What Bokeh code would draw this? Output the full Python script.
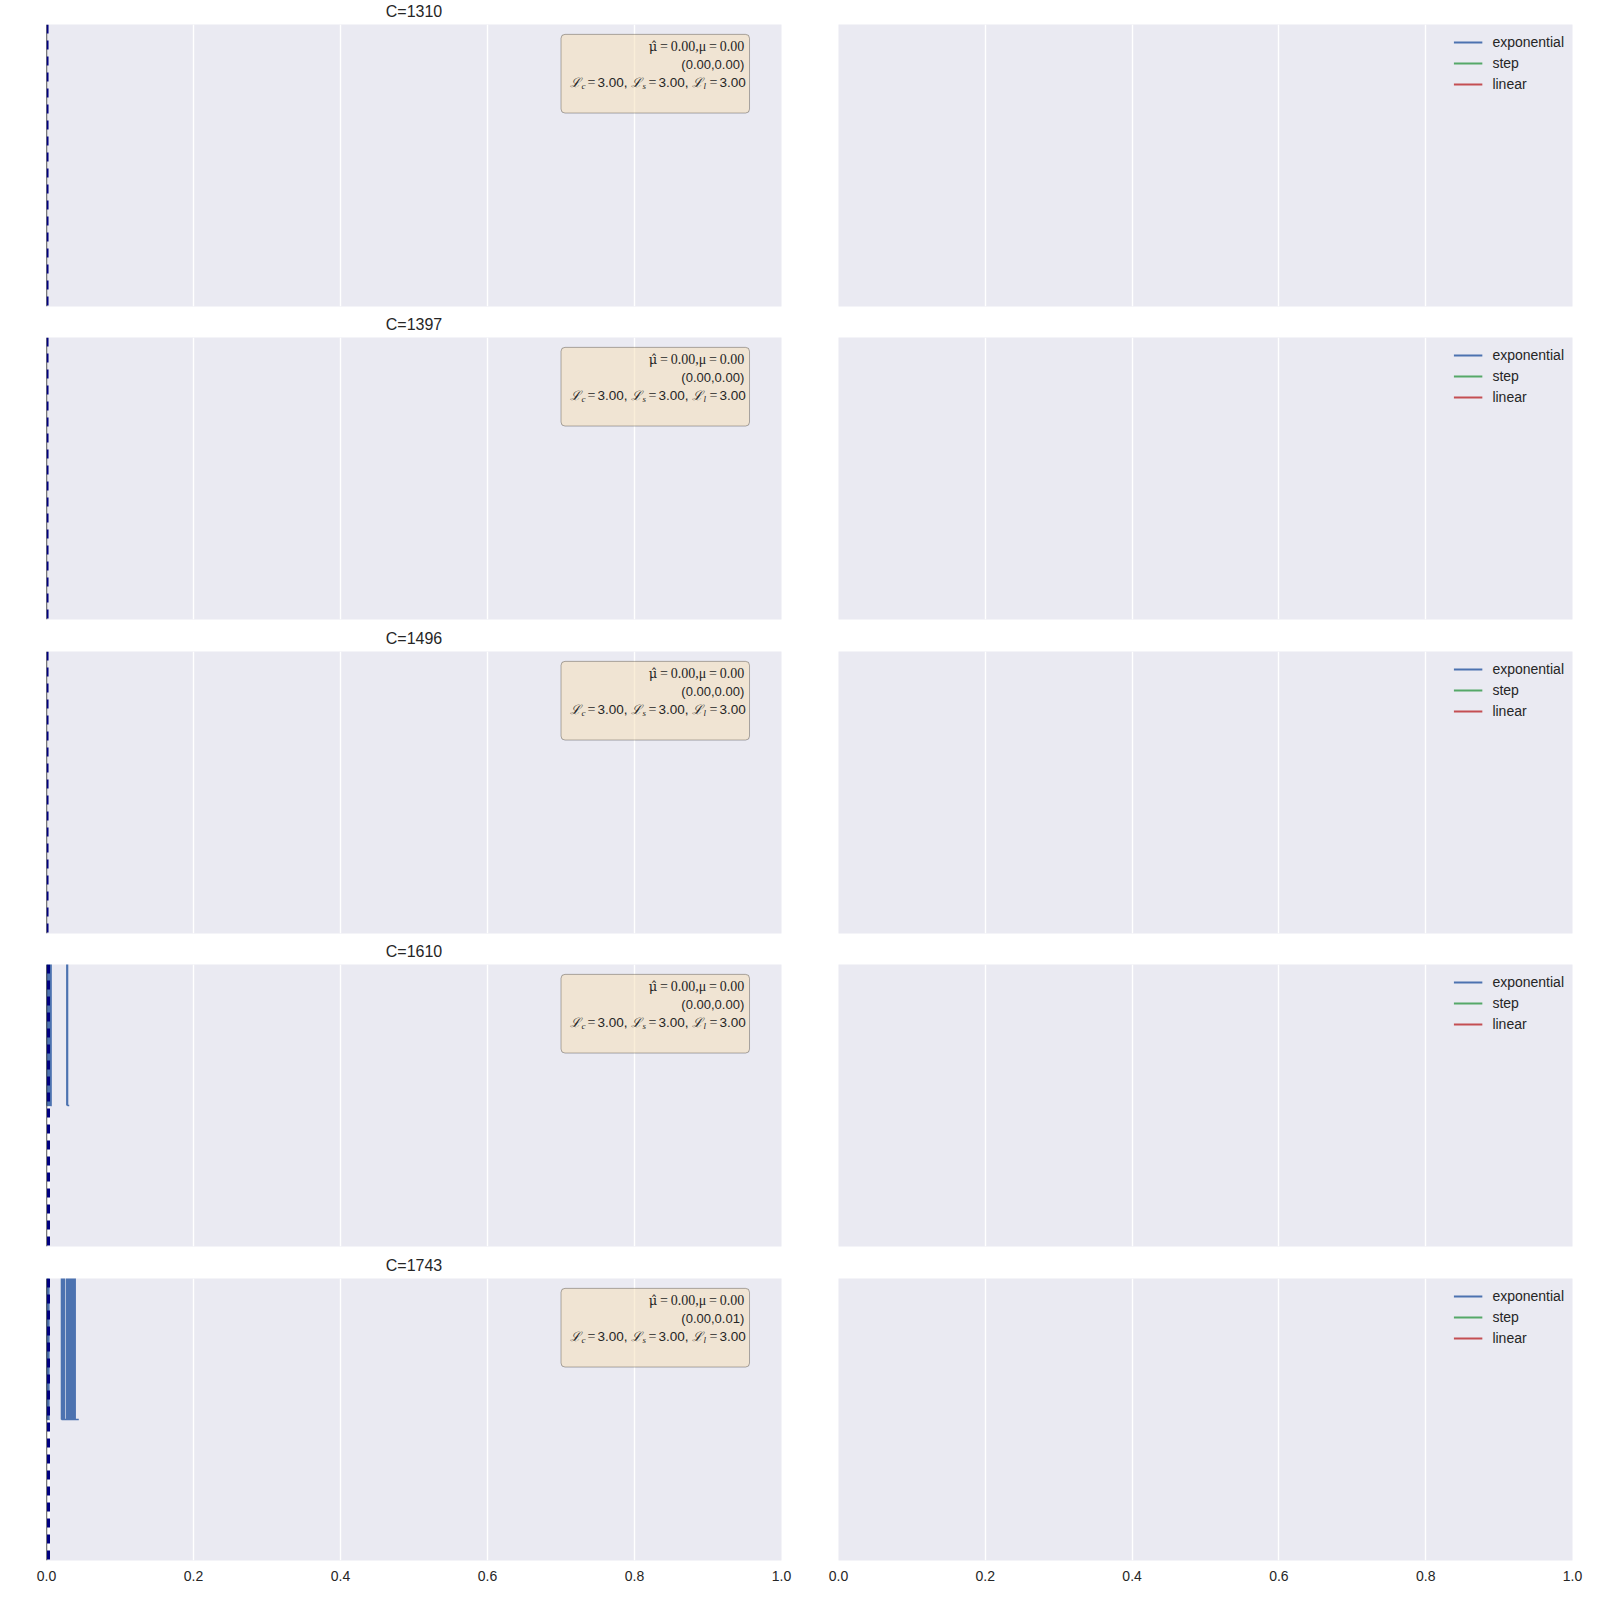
import numpy as np
from bokeh.plotting import figure
from bokeh.layouts import column, row
from bokeh.models import Range1d, FixedTicker, BoxAnnotation, Label, Span, Legend, LegendItem
from bokeh.embed import file_html
from bokeh.resources import INLINE

# ---------------- data ----------------
titles = ["C=1310", "C=1397", "C=1496", "C=1610", "C=1743"]
mu_hat = [0.00, 0.00, 0.00, 0.00, 0.00]
mu_true = [0.00, 0.00, 0.00, 0.00, 0.00]
ci_low = [0.00, 0.00, 0.00, 0.00, 0.00]
ci_high = [0.00, 0.00, 0.00, 0.00, 0.01]
loss_c = [3.00, 3.00, 3.00, 3.00, 3.00]
loss_s = [3.00, 3.00, 3.00, 3.00, 3.00]
loss_l = [3.00, 3.00, 3.00, 3.00, 3.00]
estimate_x = [0.0014, 0.0014, 0.0014, 0.0027, 0.0027]
estimate_w = [2, 2, 2, 3, 3]

series_names = ["exponential", "step", "linear"]
series_colors = ["#4c72b0", "#55a868", "#c44e52"]

x_ticks = [0.0, 0.2, 0.4, 0.6, 0.8, 1.0]
x_tick_labels = ["0.0", "0.2", "0.4", "0.6", "0.8", "1.0"]

hist_base = 0.5
# histograms (bin start, bin width, counts) per panel; counts are off-scale
hist_p4 = [(0.0, 0.0009, [38, 0, 41, 0, 36, 0, 29, 0]),
           (0.0276, 0.0011, [6, 0, 0])]
hist_p5 = [(0.0, 0.0011, [44, 0, 31, 0]),
           (0.0203, 0.0004, [9, 0, 12, 0, 15, 0, 14, 0, 11, 0, 10, 0,
                             0, 0, 0, 0, 0, 0,
                             7, 0, 9, 0, 13, 0, 16, 0, 18, 0, 15, 0, 12, 0, 10,
                             0, 0, 0,
                             6, 0, 9, 0, 11, 0, 12, 0, 10, 0, 7,
                             0, 0, 0, 0, 0, 0, 0, 0, 0, 0, 0, 0])]
hists = [[], [], [], hist_p4, hist_p5]

BG = "#eaeaf2"
TXT = "#262626"
SANS = "Liberation Sans"
SERIF = "Liberation Serif"

top_borders = [24, 24, 24, 24, 24]
fig_heights = [313, 314, 313, 314, 346]
FRAME_H = 282


def step_outline(start, width, counts):
    xs = [start]
    ys = [hist_base]
    for i, c in enumerate(counts):
        left = start + i * width
        right = left + width
        top = hist_base + c
        xs += [left, right]
        ys += [top, top]
    xs.append(start + len(counts) * width)
    ys.append(hist_base)
    return xs, ys


def style(p, bottom):
    p.background_fill_color = BG
    p.border_fill_color = "white"
    p.outline_line_color = None
    p.yaxis.visible = False
    p.ygrid.visible = False
    p.xgrid.ticker = FixedTicker(ticks=x_ticks)
    p.xgrid.grid_line_color = "white"
    p.xgrid.grid_line_width = 1.4
    p.xaxis.ticker = FixedTicker(ticks=x_ticks)
    p.xaxis.major_label_overrides = {t: l for t, l in zip(x_ticks, x_tick_labels)}
    p.xaxis.axis_line_color = None
    p.xaxis.major_tick_line_color = None
    p.xaxis.minor_tick_line_color = None
    p.xaxis.major_label_text_font = SANS
    p.xaxis.major_label_text_font_size = "14px"
    p.xaxis.major_label_text_color = TXT
    p.xaxis.major_label_standoff = 4
    if not bottom:
        p.xaxis.visible = False


rows = []
for i in range(5):
    bottom = (i == 4)
    h = fig_heights[i]
    bb = h - top_borders[i] - FRAME_H
    # ---------- left panel ----------
    pl = figure(frame_width=735, frame_height=FRAME_H, min_border_left=46, min_border_right=19,
                min_border_top=top_borders[i], min_border_bottom=bb,
                x_range=Range1d(0, 1), y_range=Range1d(0, 1),
                output_backend="svg", toolbar_location=None, tools="")
    style(pl, bottom)
    pl.title.text = titles[i]
    pl.title.align = "center"
    pl.title.vertical_align = "top"
    pl.title.text_font = SANS
    pl.title.text_font_size = "16px"
    pl.title.text_font_style = "normal"
    pl.title.text_color = TXT
    pl.title.standoff = 5

    if hists[i]:
        pl.segment(x0=[estimate_x[i]], y0=[0], x1=[estimate_x[i]], y1=[hist_base],
                   line_color="white", line_width=3)
        for (s, w, c) in hists[i]:
            xs, ys = step_outline(s, w, c)
            pl.line(xs, ys, line_color=series_colors[0], line_width=1.4)

    pl.add_layout(Span(location=mu_true[i], dimension="height", line_color="black", line_width=1.3))
    pl.add_layout(Span(location=estimate_x[i], dimension="height", line_color="#000080",
                       line_width=estimate_w[i], line_dash="9 7"))

    pl.add_layout(BoxAnnotation(left=0.70, right=0.9565, bottom=0.686, top=0.965,
                                fill_color="wheat", fill_alpha=0.5,
                                line_color="black", line_alpha=0.3, line_width=1,
                                border_radius=4))
    # line 1: mu-hat, mu (math serif)
    pl.add_layout(Label(x=0.9493, y=0.922,
                        text=f"\u2009=\u2009{mu_hat[i]:.2f},μ\u2009=\u2009{mu_true[i]:.2f}",
                        text_align="right", text_baseline="middle", text_font=SERIF,
                        text_font_size="14px", text_color=TXT))
    pl.add_layout(Label(x=0.9493, y=0.922, x_offset=-87, text="μ̂",
                        text_align="right", text_baseline="middle", text_font="DejaVu Serif",
                        text_font_size="13px", text_color=TXT))
    # line 2: interval
    pl.add_layout(Label(x=0.9493, y=0.858, text=f"({ci_low[i]:.2f},{ci_high[i]:.2f})",
                        text_align="right", text_baseline="middle", text_font=SANS,
                        text_font_size="13px", text_color=TXT))
    # line 3: losses
    subs = ["c", "s", "l"]
    vals = [loss_c[i], loss_s[i], loss_l[i]]
    for k in range(3):
        base_off = 7 + 61 * k
        pl.add_layout(Label(x=0.7034, y=0.795, x_offset=base_off, text="ℒ",
                            text_align="left", text_baseline="middle", text_font="DejaVu Serif",
                            text_font_style="italic", text_font_size="13px", text_color=TXT))
        pl.add_layout(Label(x=0.7034, y=0.795, x_offset=base_off + 11, y_offset=-4, text=subs[k],
                            text_align="left", text_baseline="middle", text_font=SERIF,
                            text_font_style="italic", text_font_size="9px", text_color=TXT))
        pl.add_layout(Label(x=0.7034, y=0.795, x_offset=base_off + 17, text="=",
                            text_align="left", text_baseline="middle", text_font=SERIF,
                            text_font_size="14px", text_color=TXT))
        pl.add_layout(Label(x=0.7034, y=0.795, x_offset=base_off + 27,
                            text=f"{vals[k]:.2f}" + ("," if k < 2 else ""),
                            text_align="left", text_baseline="middle", text_font=SANS,
                            text_font_size="13.5px", text_color=TXT))

    # ---------- right panel ----------
    pr = figure(frame_width=734, frame_height=FRAME_H, min_border_left=38, min_border_right=28,
                min_border_top=top_borders[i], min_border_bottom=bb,
                x_range=Range1d(0, 1), y_range=Range1d(0, 1),
                output_backend="svg", toolbar_location=None, tools="")
    style(pr, bottom)
    items = []
    for name, col in zip(series_names, series_colors):
        r = pr.line(x=[np.nan], y=[np.nan], line_color=col, line_width=2)
        items.append(LegendItem(label=name, renderers=[r]))
    leg = Legend(items=items, location="top_right")
    leg.background_fill_alpha = 0
    leg.border_line_alpha = 0
    leg.label_text_font = SANS
    leg.label_text_font_size = "14px"
    leg.label_text_color = TXT
    leg.glyph_width = 29
    leg.glyph_height = 20
    leg.label_height = 20
    leg.label_standoff = 10
    leg.spacing = 1
    leg.padding = 8
    leg.margin = 0
    pr.add_layout(leg)

    rows.append(row(pl, pr))

layout = column(*rows)
open("out.html", "w").write(file_html(layout, INLINE))
